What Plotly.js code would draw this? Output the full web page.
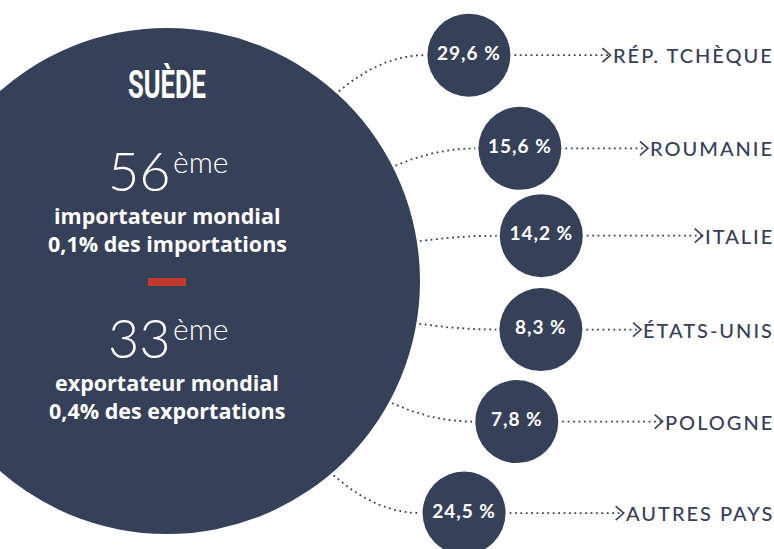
<!DOCTYPE html>
<html>
<head>
<meta charset="utf-8">
<script src="https://cdn.plot.ly/plotly-3.0.1.min.js"></script>
<style>body{margin:0;background:#fff}</style>
</head>
<body>
<div id="chart" style="width:774px;height:549px"></div>
<script>
// data
var countries = ['RÉP. TCHÈQUE', 'ROUMANIE', 'ITALIE', 'ÉTATS-UNIS', 'POLOGNE', 'AUTRES PAYS'];
var shares = [29.6, 15.6, 14.2, 8.3, 7.8, 24.5];
var reporter = 'SUÈDE';
var importRank = 56, importShare = '0,1%';
var exportRank = 33, exportShare = '0,4%';

var shareLabels = shares.map(function(v){ return v.toFixed(1).replace('.', ',') + ' %'; });

// layout constants
var navy = '#364159';
var red = '#c0392b';
var cx = 167, cy = 281, R = 253;     // big circle
var orbit = 377, r = 41.5;           // small circles
var slotAngles = [-36.8, -20.6, -6.9, 7.4, 21.9, 38];
var labelRight = 773;
var labelShift = 3;
var deg = Math.PI / 180;

var pos = countries.map(function(c, i){
  var a = slotAngles[i] * deg;
  return {x: cx + orbit * Math.cos(a), y: cy + orbit * Math.sin(a), a: a};
});

// measure label widths for arrow placement
var ctx = document.createElement('canvas').getContext('2d');
ctx.font = '500 20px Lato';
var hasLS = ('letterSpacing' in ctx);
if (hasLS) ctx.letterSpacing = '2px';
function labelWidth(s){
  var w = ctx.measureText(s).width;
  if (!hasLS) w += 2 * s.length;
  return w;
}

// curved connectors from big circle to small circles
var conX = [], conY = [];
pos.forEach(function(p){
  var a0 = p.a * 1.3;
  var x0 = cx + (R + 3) * Math.cos(a0), y0 = cy + (R + 3) * Math.sin(a0);
  var x2 = p.x - r - 3, y2 = p.y;
  var x1 = (x0 + x2) / 2, y1 = y2;
  for (var k = 0; k <= 40; k++) {
    var t = k / 40, u = 1 - t;
    conX.push(u*u*x0 + 2*u*t*x1 + t*t*x2);
    conY.push(u*u*y0 + 2*u*t*y1 + t*t*y2);
  }
  conX.push(null); conY.push(null);
});

// straight dotted lines + chevrons
var lnX = [], lnY = [], chX = [], chY = [];
pos.forEach(function(p, i){
  var tip = labelRight + labelShift - labelWidth(countries[i]) - 4;
  lnX.push(p.x + r + 4, tip - 1, null);
  lnY.push(p.y, p.y, null);
  chX.push(tip - 8, tip, tip - 8, null);
  chY.push(p.y - 7, p.y, p.y + 7, null);
});

var traces = [
  {x: conX, y: conY, mode: 'lines', line: {color: navy, width: 1.8, dash: '1.8px,3.6px'}, hoverinfo: 'skip'},
  {x: lnX, y: lnY, mode: 'lines', line: {color: navy, width: 1.8, dash: '1.8px,3.6px'}, hoverinfo: 'skip'},
  {x: chX, y: chY, mode: 'lines', line: {color: navy, width: 1.6}, hoverinfo: 'skip'},
  {
    x: pos.map(function(p){ return p.x; }),
    y: pos.map(function(p){ return p.y; }),
    mode: 'markers+text',
    marker: {size: 2 * r, color: navy, line: {width: 0}},
    text: shareLabels.map(function(s){ return '<span style="letter-spacing:1px">' + s + '</span>'; }),
    textposition: 'middle center',
    textfont: {family: 'Lato', size: 19, color: '#fff', weight: 'bold'},
    hoverinfo: 'skip'
  }
];

var white = '#ffffff';
var bodyFont = {family: 'Open Sans', size: 21.5, color: white, weight: 'bold'};
var rankFont = {family: 'Lato', size: 54, color: white, weight: 300};
var supFont = {family: 'Lato', size: 30, color: white, weight: 300};
var annotations = [
  {x: cx, y: 85, text: reporter, font: {family: 'Roboto', size: 38, color: white, weight: 'bold'}},
  {x: cx + 6, y: 170, xanchor: 'right', text: String(importRank), font: rankFont},
  {x: cx + 4, y: 161, xanchor: 'left', text: 'ème', font: supFont},
  {x: cx, y: 215, text: 'importateur mondial', font: bodyFont},
  {x: cx, y: 243, text: importShare + ' des importations', font: bodyFont},
  {x: cx + 6, y: 337, xanchor: 'right', text: String(exportRank), font: rankFont},
  {x: cx + 4, y: 328, xanchor: 'left', text: 'ème', font: supFont},
  {x: cx, y: 382, text: 'exportateur mondial', font: bodyFont},
  {x: cx, y: 410, text: exportShare + ' des exportations', font: bodyFont}
];
pos.forEach(function(p, i){
  annotations.push({
    x: labelRight, y: p.y, xanchor: 'right', xshift: labelShift,
    text: '<span style="letter-spacing:2px">' + countries[i] + '</span>',
    font: {family: 'Lato', size: 20, color: navy, weight: 500}
  });
});
annotations.forEach(function(a){ a.showarrow = false; a.xref = 'x'; a.yref = 'y'; });

var layout = {
  width: 774, height: 549,
  margin: {l: 0, r: 0, t: 0, b: 0},
  paper_bgcolor: '#fff', plot_bgcolor: '#fff',
  showlegend: false,
  hovermode: false,
  xaxis: {range: [0, 774], visible: false, fixedrange: true},
  yaxis: {range: [549, 0], visible: false, fixedrange: true},
  shapes: [
    {type: 'circle', xref: 'x', yref: 'y', x0: cx - R, x1: cx + R, y0: cy - R, y1: cy + R,
     fillcolor: navy, line: {width: 0}, layer: 'below'},
    {type: 'rect', xref: 'x', yref: 'y', x0: cx - 19, x1: cx + 19, y0: 278, y1: 286,
     fillcolor: red, line: {width: 0}}
  ],
  annotations: annotations
};

Plotly.newPlot('chart', traces, layout, {displayModeBar: false, staticPlot: true}).then(function(gd){
  // squeeze the title into a condensed look
  var t = gd.querySelector('.annotation[data-index="0"] text');
  if (t) {
    t.setAttribute('textLength', 78);
    t.setAttribute('lengthAdjust', 'spacingAndGlyphs');
  }
});
</script>
</body>
</html>
